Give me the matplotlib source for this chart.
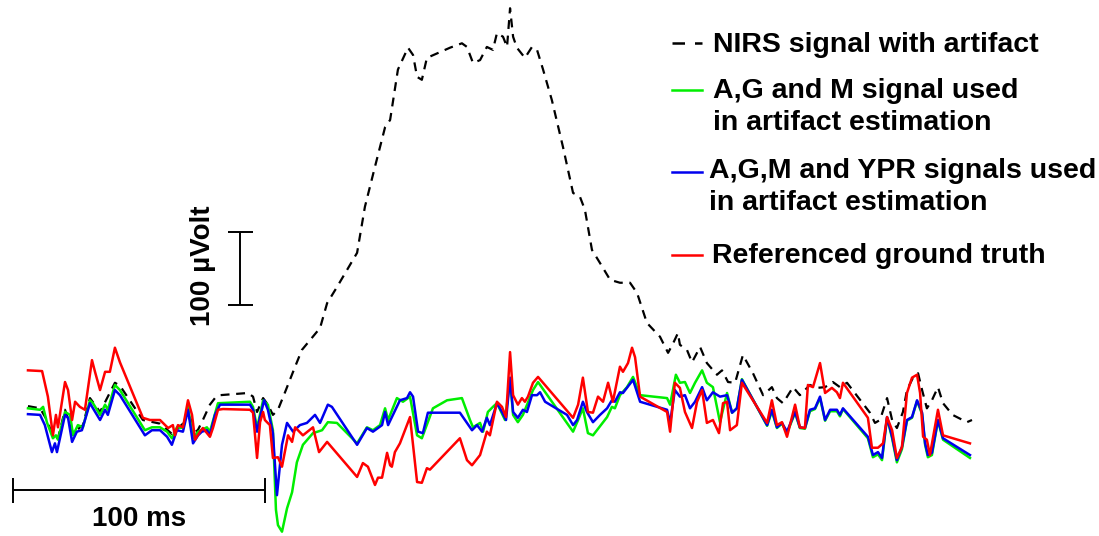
import matplotlib
matplotlib.use("Agg")
import matplotlib.pyplot as plt
from matplotlib.lines import Line2D

plt.rcParams["font.family"] = ["Liberation Sans", "DejaVu Sans"]

# --- signals (time in ms, amplitude in µV) ---
t_nirs = [0, 4.8, 7.5, 9.9, 11.9, 14.7, 17.9, 21.8, 24.6, 28.6, 34.5, 36.5, 45.6, 52.4,
          57.1, 61.5, 64.3, 67.1, 69.4, 72.2, 74.2, 76.2, 87.3, 89.3, 90.9, 93.3, 95.2,
          97.2, 99.2, 102.0, 106.0, 108.7, 115.9, 118.7, 122.6, 130.6, 133.7, 137.7,
          141.7, 143.7, 146.8, 150.8, 152.8, 154.4, 156.3, 158.3, 167.5, 172.2, 174.2,
          176.6, 179.4, 182.1, 184.5, 186.1, 188.5, 190.1, 191.3, 192.5, 194.0, 197.2,
          200.0, 202.0, 204.4, 207.9, 212.3, 216.3, 219.0, 221.0, 223.8, 227.0, 231.0,
          234.9, 238.9, 241.7, 245.6, 250.8, 254.0, 256.0, 257.9, 258.7, 261.5, 263.5,
          266.7, 269.4, 273.4, 275.4, 277.8, 280.6, 283.7, 287.7, 291.7, 295.2, 297.2,
          299.6, 303.6, 306.3, 310.3, 313.1, 316.3, 319.4, 322.2, 325.0, 334.1, 336.1,
          338.1, 340.9, 342.9, 344.8, 347.2, 348.8, 351.2, 353.2, 354.8, 356.7, 358.7,
          361.1, 363.1, 366.9, 372.6, 374.6]
v_nirs = [19, 16, 0, -22, -25, 14, -18, -7, 30, 11, 51, 47, 0, -5,
          -19, -5, 3, -16, 0, 21, 30, 34, 37, 32, 11, 30, 21,
          7, 14, 38, 73, 96, 126, 160, 182, 229, 292, 347,
          401, 411, 480, 510, 500, 470, 466, 496, 510, 516, 511,
          489, 493, 511, 507, 530, 525, 511, 564, 525, 510, 496,
          511, 507, 480, 438, 374, 311, 306, 288, 233, 215, 192,
          188, 188, 174, 133, 114, 92, 105, 119, 103, 96, 79,
          100, 78, 62, 68, 52, 51, 89, 64, 34, 45, 30,
          23, 45, 34, 48, 44, 45, 52, 45, 51, 10, -4,
          0, 30, 0, -11, 11, 41, 58, 64, 41, 16, 27,
          45, 23, 7, -3, 0]

t_agm = [0, 4.8, 6.0, 7.5, 9.9, 11.1, 11.9, 14.7, 16.7, 17.9, 19.8, 21.8, 24.6, 25.8,
         28.6, 30.6, 31.7, 34.5, 36.5, 46.4, 49.2, 52.4, 55.2, 57.1, 59.1, 61.5, 63.5,
         65.5, 67.5, 71.0, 72.2, 75.4, 88.1, 89.3, 90.9, 93.3, 95.2, 97.2, 98.4, 99.2,
         100.8, 102.8, 104.8, 106.7, 109.1, 113.1, 116.7, 119.0, 122.6, 130.6, 134.5,
         136.9, 139.7, 141.7, 142.9, 146.4, 148.8, 151.6, 154.4, 156.3, 160.7, 166.3,
         172.2, 175.4, 176.6, 179.4, 180.6, 182.5, 184.5, 186.1, 189.3, 191.3, 192.5,
         194.4, 196.4, 200.4, 202.4, 216.3, 218.3, 220.2, 222.2, 224.2, 229.8, 231.7,
         232.9, 234.9, 237.7, 240.1, 242.9, 253.6, 254.8, 257.1, 258.7, 260.7, 262.7,
         264.7, 267.5, 269.4, 271.8, 274.6, 277.4, 279.4, 281.3, 283.3, 293.3, 295.2,
         297.2, 299.2, 301.2, 304.4, 306.3, 308.3, 310.3, 312.3, 314.3, 316.3, 318.3,
         321.0, 322.2, 323.4, 333.3, 335.3, 337.3, 338.9, 340.9, 342.9, 344.8, 346.8,
         348.8, 350.8, 352.8, 354.8, 356.0, 357.1, 358.7, 361.1, 363.1, 373.8]
v_agm = [16, 14, 18, -3, -25, -21, -27, 11, 7, -21, -7, -10, 27, 23,
         7, 21, 14, 48, 41, -14, -10, -10, -16, -25, -10, -11, 18,
         -25, -16, -10, -16, 23, 25, 18, -11, 27, 21, -14, -123, -144,
         -153, -121, -99, -58, -34, -18, -14, -3, -4, -32, -10,
         -14, -7, 16, 0, 30, 25, 32, -21, -25, 16, 27,
         30, 0, -10, -4, -16, 11, 18, 23, 0, 56, 7,
         -3, 7, 41, 52, -16, 0, 16, -18, -21, 4, 18,
         16, 34, 45, 59, 34, 30, 21, 62, 51, 52, 37,
         51, 68, 51, 45, -3, 37, 10, 16, 56, -8, 12,
         -11, -5, -18, 10, -11, -12, 12, 15, 30, -1, 12,
         12, 5, 15, -25, -51, -47, -55, 3, -25, -58, -40,
         -1, 3, 26, 8, -34, -51, -48, -1, -27, -52]

t_agm_ypr = [0, 4.8, 6.7, 9.5, 10.7, 11.5, 14.7, 15.9, 17.5, 19.4, 21.4, 24.6, 25.8,
             28.6, 30.6, 31.7, 34.5, 36.5, 46.4, 49.2, 52.4, 55.2, 57.1, 59.1, 61.5,
             63.5, 65.5, 67.5, 69.0, 71.0, 72.2, 74.2, 76.2, 88.1, 89.3, 90.9, 92.1,
             93.7, 95.2, 97.2, 98.8, 100.8, 102.8, 105.2, 107.9, 110.7, 113.9, 115.9,
             119.0, 120.6, 130.6, 134.5, 136.9, 140.5, 141.7, 142.9, 147.6, 150.4,
             151.6, 152.8, 154.8, 156.7, 158.7, 171.4, 176.2, 178.2, 180.2, 182.1,
             183.3, 186.1, 188.1, 189.7, 191.3, 192.5, 194.4, 196.4, 198.0, 200.0,
             202.0, 203.2, 205.2, 213.9, 216.3, 217.9, 220.2, 221.8, 224.2, 227.0,
             229.8, 231.7, 232.9, 234.9, 236.1, 240.1, 242.9, 253.6, 254.8, 256.7,
             258.7, 260.7, 262.7, 264.7, 267.5, 269.4, 271.8, 274.6, 277.4, 279.4,
             281.3, 283.3, 293.3, 295.2, 297.2, 299.2, 301.2, 304.4, 306.3, 308.3,
             310.3, 312.3, 314.3, 316.3, 318.3, 321.0, 322.2, 323.4, 333.3, 335.3,
             337.3, 338.9, 340.9, 342.9, 344.8, 346.8, 348.8, 350.8, 352.8, 354.8,
             356.0, 357.1, 358.7, 361.1, 363.1, 373.8]
v_agm_ypr = [8, 7, -7, -44, -32, -44, 7, 3, -30, -16, -14, 23, 16,
             0, 14, 7, 41, 34, -21, -14, -14, -23, -34, -14, -16,
             14, -32, -21, -16, -14, -21, 7, 21, 21, 14, -16, 4,
             27, 14, -18, -103, -34, -4, -16, -7, -4, 7, -4,
             21, 18, -34, -11, -16, -7, 11, -7, 27, 30,
             38, 32, -16, -18, 10, 10, -14, -7, -16, 3,
             -7, 23, 11, 0, 58, 11, 3, 14, 11, 34,
             34, 38, 25, 7, -7, 0, 25, 11, -3, 7,
             16, 27, 25, 38, 37, 55, 25, 14, -4, 41,
             32, 34, 16, 25, 45, 27, 38, 32, 34, 10,
             16, 55, -7, 14, -10, -4, -16, 11, -10, -11,
             14, 16, 32, 0, 14, 14, 7, 16, -23, -48,
             -44, -52, 4, -23, -55, -37, 0, 4, 27, 10,
             -32, -48, -45, 0, -25, -48]

t_truth = [0, 5.6, 7.9, 9.9, 11.1, 11.9, 14.7, 15.9, 17.5, 18.7, 20.6, 22.6, 25.4, 26.6,
           28.6, 30.6, 32.5, 34.5, 36.5, 45.6, 48.4, 52.4, 55.6, 57.5, 58.3, 59.5, 61.5,
           63.5, 65.1, 66.3, 68.3, 69.4, 72.2, 73.4, 75.4, 77.4, 88.1, 89.3, 90.9, 92.1,
           93.3, 94.0, 96.0, 97.2, 99.2, 100.8, 103.2, 104.8, 106.0, 109.1, 113.1, 115.5,
           118.7, 130.6, 132.9, 134.9, 137.7, 138.9, 140.5, 142.5, 143.7, 144.4, 145.6,
           147.6, 150.4, 151.6, 154.4, 156.3, 158.3, 159.5, 171.4, 174.2, 176.2, 179.4,
           182.1, 183.3, 186.1, 188.1, 189.7, 191.3, 192.5, 194.4, 196.0, 197.2, 198.4,
           200.4, 202.4, 216.3, 218.3, 220.2, 222.2, 224.2, 226.2, 228.2, 230.2, 232.1,
           234.9, 236.1, 238.1, 239.7, 240.9, 242.9, 253.6, 254.8, 256.7, 258.7, 260.7,
           263.5, 265.5, 267.5, 269.4, 271.8, 274.2, 275.8, 277.4, 278.6, 281.3, 283.3,
           293.3, 295.2, 297.2, 299.2, 301.2, 304.4, 306.3, 308.3, 309.5, 311.5, 314.3,
           316.3, 319.0, 321.0, 322.2, 323.4, 333.3, 334.9, 337.3, 339.3, 340.9, 342.9,
           344.8, 346.8, 348.8, 350.8, 352.8, 354.0, 355.2, 356.7, 357.9, 361.1, 363.1,
           373.8]
v_truth = [68, 67, 32, -21, 7, -10, 52, 41, 0, 25, 18, 14, 82, 66,
           41, 66, 66, 99, 79, 3, 0, 0, -11, -7, -21, -7, -10,
           27, 7, -27, -16, -11, -23, -11, 14, 15, 14, 10, -52, -3,
           11, 0, -7, -52, -51, -64, -21, -30, -10, -21, -10, -44,
           -30, -78, -59, -64, -89, -79, -79, -45, -62, -64, -44,
           -32, -7, 4, -85, -86, -66, -68, -25, -55, -62, -48,
           -16, -21, 25, 18, 4, 93, 34, 21, 30, 25, 32,
           51, 59, 3, 21, 58, 11, 10, 32, 25, 51, 25,
           73, 66, 78, 99, 86, 32, 11, -16, 51, 44, 11,
           -11, 25, 41, -4, 0, -18, 23, 25, -14, -7, 51,
           -4, 27, -7, -3, -23, 21, -10, -11, 48, 45, 78,
           37, 44, 38, 30, 51, 3, -38, -38, -32, 4, -14,
           -52, -37, 37, 58, 62, 37, -23, -27, -48, 14, -21,
           -32]

legend_labels = ["NIRS signal with artifact",
                 "A,G and M signal used\nin artifact estimation",
                 "A,G,M and YPR signals used\nin artifact estimation",
                 "Referenced ground truth"]

W, H = 1099, 536
fig = plt.figure(figsize=(W / 100, H / 100), dpi=100)
ax = fig.add_axes([0, 0, 1, 1])
ax.axis("off")

ax.plot(t_nirs, v_nirs, color="black", lw=1.6, dashes=(4, 3), zorder=1)
ax.plot(t_agm, v_agm, color="#00ee00", lw=1.8, zorder=2)
ax.plot(t_agm_ypr, v_agm_ypr, color="#0000ee", lw=1.8, zorder=3)
ax.plot(t_truth, v_truth, color="#ff0000", lw=1.8, zorder=4)

ax.set_xlim(-11.1, 425.0)
ax.set_ylim(-158.9, 575.3)

# scale bars
ax.errorbar([84.1], [207.5], yerr=[50], color="black", lw=1.4, capsize=9, capthick=1.4)
ax.errorbar([44.0], [-96.0], xerr=[50], color="black", lw=1.4, capsize=9, capthick=1.4)
ax.text(44.0, -135, "100 ms", fontsize=20, fontweight="bold", ha="center", va="center")
ax.text(69.4, 211, "100 µVolt", fontsize=20, fontweight="bold", rotation=90,
        ha="center", va="center")

# legend drawn by hand so that each key lines up with the first text line
def fx(px):
    return px / W

def fy(py):
    return 1 - py / H

keys = [("black", (5, 4), 43, 52, 713), ("#00ee00", None, 90, 98, 713),
        ("#0000ee", None, 172, 178, 709), ("#ff0000", None, 255, 263, 712)]
for (col, dash, ky, base, tx), lab in zip(keys, legend_labels):
    ln = Line2D([fx(672), fx(702)], [fy(ky), fy(ky)], transform=fig.transFigure,
                color=col, lw=1.8)
    if dash:
        ln.set_dashes(dash)
    fig.add_artist(ln)
    for i, line in enumerate(lab.split("\n")):
        fig.text(fx(tx), fy(base + 32 * i), line, fontsize=20.5, fontweight="bold",
                 ha="left", va="baseline")

fig.savefig("out.png", dpi=100)
